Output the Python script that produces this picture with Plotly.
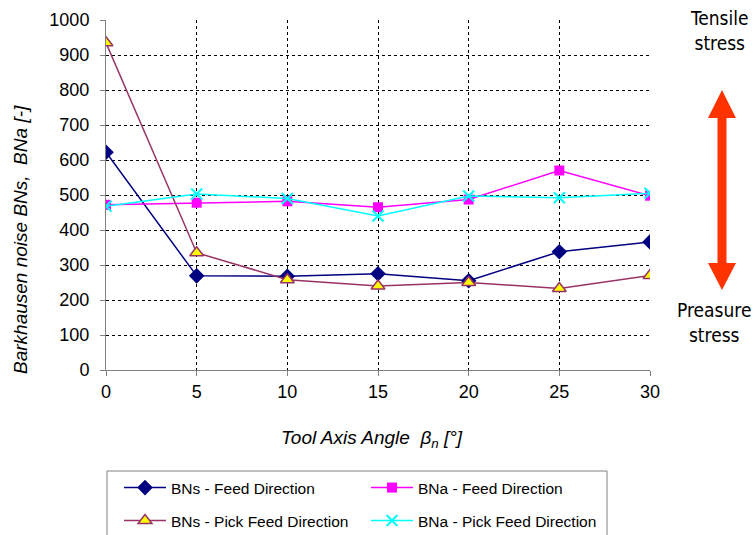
import plotly.graph_objects as go

angles = [0, 5, 10, 15, 20, 25, 30]
bns_feed = [622, 269, 268, 275, 255, 338, 366]
bna_feed = [472, 478, 482, 465, 487, 570, 498]
bns_pick = [935, 335, 258, 240, 250, 233, 270]
bna_pick = [468, 503, 490, 440, 497, 492, 505]

y_ticks = list(range(0, 1001, 100))
x_ticks = list(range(0, 31, 5))

W, H = 753, 535
L, R, T, B = 106, 103, 20, 165
PW, PH = W - L - R, H - T - B


def px(x):
    return (x - L) / PW


def py(y):
    return (H - B - y) / PH


fig = go.Figure()

fig.add_trace(go.Scatter(
    x=angles, y=bns_feed, name="BNs - Feed Direction", mode="lines+markers",
    line=dict(color="#000080", width=1.5),
    marker=dict(symbol="diamond", size=12, color="#000080"),
    legend="legend"))
fig.add_trace(go.Scatter(
    x=angles, y=bna_feed, name="BNa - Feed Direction", mode="lines+markers",
    line=dict(color="#FF00FF", width=1.5),
    marker=dict(symbol="square", size=10, color="#FF00FF"),
    legend="legend"))
fig.add_trace(go.Scatter(
    x=angles, y=bns_pick, name="BNs - Pick Feed Direction", mode="lines+markers",
    line=dict(color="#993366", width=1.5),
    marker=dict(symbol="triangle-up", size=12, color="#FFFF00",
                line=dict(color="#993366", width=1.5)),
    legend="legend2"))
fig.add_trace(go.Scatter(
    x=angles, y=bna_pick, name="BNa - Pick Feed Direction", mode="lines+markers",
    line=dict(color="#00FFFF", width=1.5),
    marker=dict(symbol="x-thin-open", size=11, color="#00FFFF",
                line=dict(color="#00FFFF", width=2)),
    legend="legend2"))

axis_font = dict(family="Liberation Sans, Arial", size=18, color="#000000")

fig.update_xaxes(
    range=[0, 30], tickvals=x_ticks, showline=True, linecolor="#808080", linewidth=1,
    showgrid=True, gridcolor="#000000", griddash="dot", gridwidth=1,
    ticks="outside", ticklen=5, tickcolor="#808080", zeroline=False,
    tickfont=axis_font)
fig.update_yaxes(
    range=[0, 1000], tickvals=y_ticks, showline=True, linecolor="#808080", linewidth=1,
    showgrid=True, gridcolor="#000000", griddash="dot", gridwidth=1,
    ticks="outside", ticklen=5, tickcolor="#808080", zeroline=False,
    ticklabelstandoff=7, tickfont=axis_font)

leg_font = dict(family="Liberation Sans, Arial", size=15.5, color="#000000")
fig.update_layout(
    width=W, height=H,
    margin=dict(l=L, r=R, t=T, b=B, autoexpand=False),
    paper_bgcolor="white", plot_bgcolor="white",
    showlegend=True,
    legend=dict(orientation="h", x=px(119), y=py(471), xanchor="left", yanchor="top",
                entrywidth=190, entrywidthmode="pixels", itemwidth=42, font=leg_font,
                bgcolor="rgba(0,0,0,0)", borderwidth=0),
    legend2=dict(orientation="h", x=px(119), y=py(504), xanchor="left", yanchor="top",
                 entrywidth=190, entrywidthmode="pixels", itemwidth=42, font=leg_font,
                 bgcolor="rgba(0,0,0,0)", borderwidth=0),
)

# legend frame
fig.add_shape(type="rect", xref="paper", yref="paper",
              x0=px(107), x1=px(607), y0=py(471), y1=py(545),
              line=dict(color="#808080", width=1), fillcolor="rgba(0,0,0,0)")

# double arrow
cx, sw, hw = 722, 4.5, 14
top_tip, top_base, bot_base, bot_tip = 90, 118, 263, 290
pts = [(cx, top_tip), (cx + hw, top_base), (cx + sw, top_base), (cx + sw, bot_base),
       (cx + hw, bot_base), (cx, bot_tip), (cx - hw, bot_base), (cx - sw, bot_base),
       (cx - sw, top_base), (cx - hw, top_base)]
path = "M " + " L ".join(f"{px(a):.5f},{py(b):.5f}" for a, b in pts) + " Z"
fig.add_shape(type="path", xref="paper", yref="paper", path=path,
              fillcolor="#FF3300", line=dict(width=0))

side_font = dict(family="DejaVu Sans Condensed, DejaVu Sans", size=19, color="#000000")
fig.add_annotation(text="Tensile<br>stress", xref="paper", yref="paper",
                   x=px(719), y=py(30), xanchor="center", yanchor="middle",
                   showarrow=False, font=side_font, align="center")
fig.add_annotation(text="Preasure<br>stress", xref="paper", yref="paper",
                   x=px(714), y=py(322), xanchor="center", yanchor="middle",
                   showarrow=False, font=side_font, align="center")

title_font = dict(family="Liberation Sans, Arial", size=19, color="#000000")
fig.add_annotation(text="<i>Barkhausen noise BNs,  BNa [-]</i>", xref="paper", yref="paper",
                   x=px(20), y=py(240), xanchor="center", yanchor="middle",
                   textangle=-90, showarrow=False, font=title_font)
fig.add_annotation(text="<i>Tool Axis Angle  β<sub>n</sub> [°]</i>", xref="paper", yref="paper",
                   x=px(372), y=py(439), xanchor="center", yanchor="middle",
                   showarrow=False, font=title_font)

fig.write_html("out.html", config={"displayModeBar": False},
               post_script="document.body.style.margin='0';")
